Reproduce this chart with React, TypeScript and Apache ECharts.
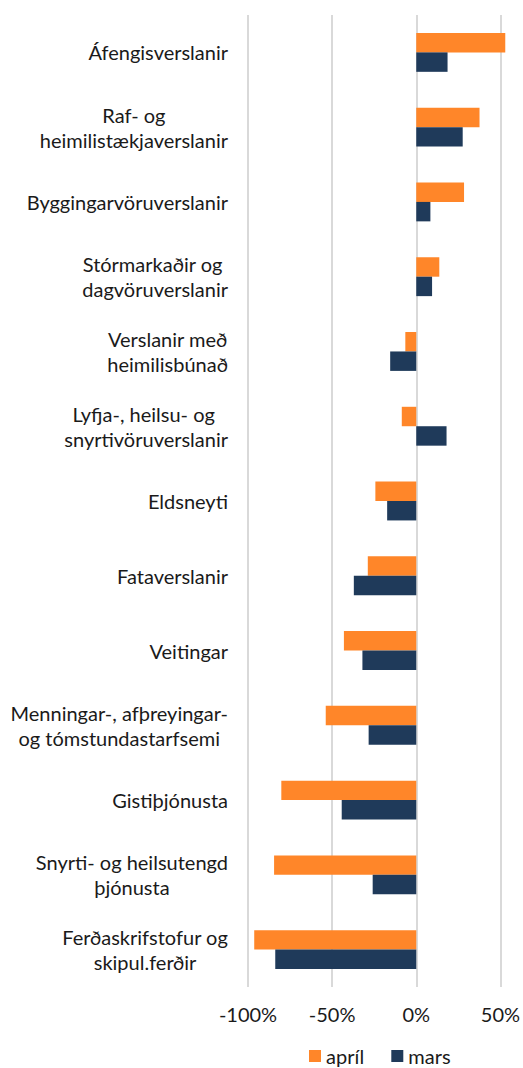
import React, { useEffect, useRef } from "react";
import * as echarts from "echarts";

const categories = [
  "Áfengisverslanir",
  "Raf- og\nheimilistækjaverslanir",
  "Byggingarvöruverslanir",
  "Stórmarkaðir og \ndagvöruverslanir",
  "Verslanir með\nheimilisbúnað",
  "Lyfja-, heilsu- og \nsnyrtivöruverslanir",
  "Eldsneyti",
  "Fataverslanir",
  "Veitingar",
  "Menningar-, afþreyingar-\nog tómstundastarfsemi",
  "Gistiþjónusta",
  "Snyrti- og heilsutengd\nþjónusta",
  "Ferðaskrifstofur og\nskipul.ferðir",
];

const april = [52.9, 37.6, 28.4, 13.7, -6.5, -8.6, -24.3, -28.8, -43.0, -53.8, -80.2, -84.5, -96.3];
const mars = [18.6, 27.6, 8.4, 9.4, -15.5, 18.0, -17.3, -37.1, -32.0, -28.3, -44.3, -25.9, -83.8];

const xMin = -100;
const xMax = 50;
const xInterval = 50;

const FONT = "Lato, 'Open Sans', sans-serif";
const FS = 20;

export default function App() {
  const ref = useRef<HTMLDivElement>(null);
  useEffect(() => {
    if (!ref.current) return;
    const chart = echarts.init(ref.current, undefined, { renderer: "svg" });
    chart.setOption({
      animation: false,
      textStyle: { fontFamily: FONT },
      grid: { left: 248, right: 20, top: 15, bottom: 81, containLabel: false },
      legend: {
        left: 304,
        top: 1041,
        itemWidth: 12,
        itemHeight: 12,
        itemGap: 27,
        icon: "rect",
        textStyle: { fontFamily: FONT, fontSize: FS, color: "#1a1a1a" },
        data: ["apríl", "mars"],
      },
      xAxis: {
        type: "value",
        min: xMin,
        max: xMax,
        interval: xInterval,
        axisLine: { show: false },
        axisTick: { show: false },
        splitLine: { show: true, lineStyle: { color: "#d9d9d9", width: 2 } },
        axisLabel: {
          formatter: (v: number) => `${v}%`,
          fontFamily: FONT,
          fontSize: FS,
          color: "#1a1a1a",
          margin: 17,
        },
      },
      yAxis: {
        type: "category",
        inverse: true,
        data: categories,
        axisLine: { show: false },
        axisTick: { show: false },
        splitLine: { show: false },
        axisLabel: {
          margin: 20,
          align: "right",
          formatter: (v: string) =>
            v
              .split("\n")
              .map((l) => `{c|${l}}`)
              .join("\n"),
          rich: {
            c: {
              align: "center",
              fontFamily: FONT,
              fontSize: FS,
              color: "#1a1a1a",
              lineHeight: 25,
            },
          },
        },
      },
      series: [
        {
          name: "apríl",
          type: "bar",
          data: april,
          clip: false,
          barGap: "0%",
          barCategoryGap: "48%",
          itemStyle: { color: "#FF8629" },
        },
        {
          name: "mars",
          type: "bar",
          data: mars,
          clip: false,
          barGap: "0%",
          barCategoryGap: "48%",
          itemStyle: { color: "#1F3A5A" },
        },
      ],
    });
    return () => chart.dispose();
  }, []);
  return <div ref={ref} style={{ width: 523, height: 1068, position: "absolute", left: 0, top: 0 }} />;
}
